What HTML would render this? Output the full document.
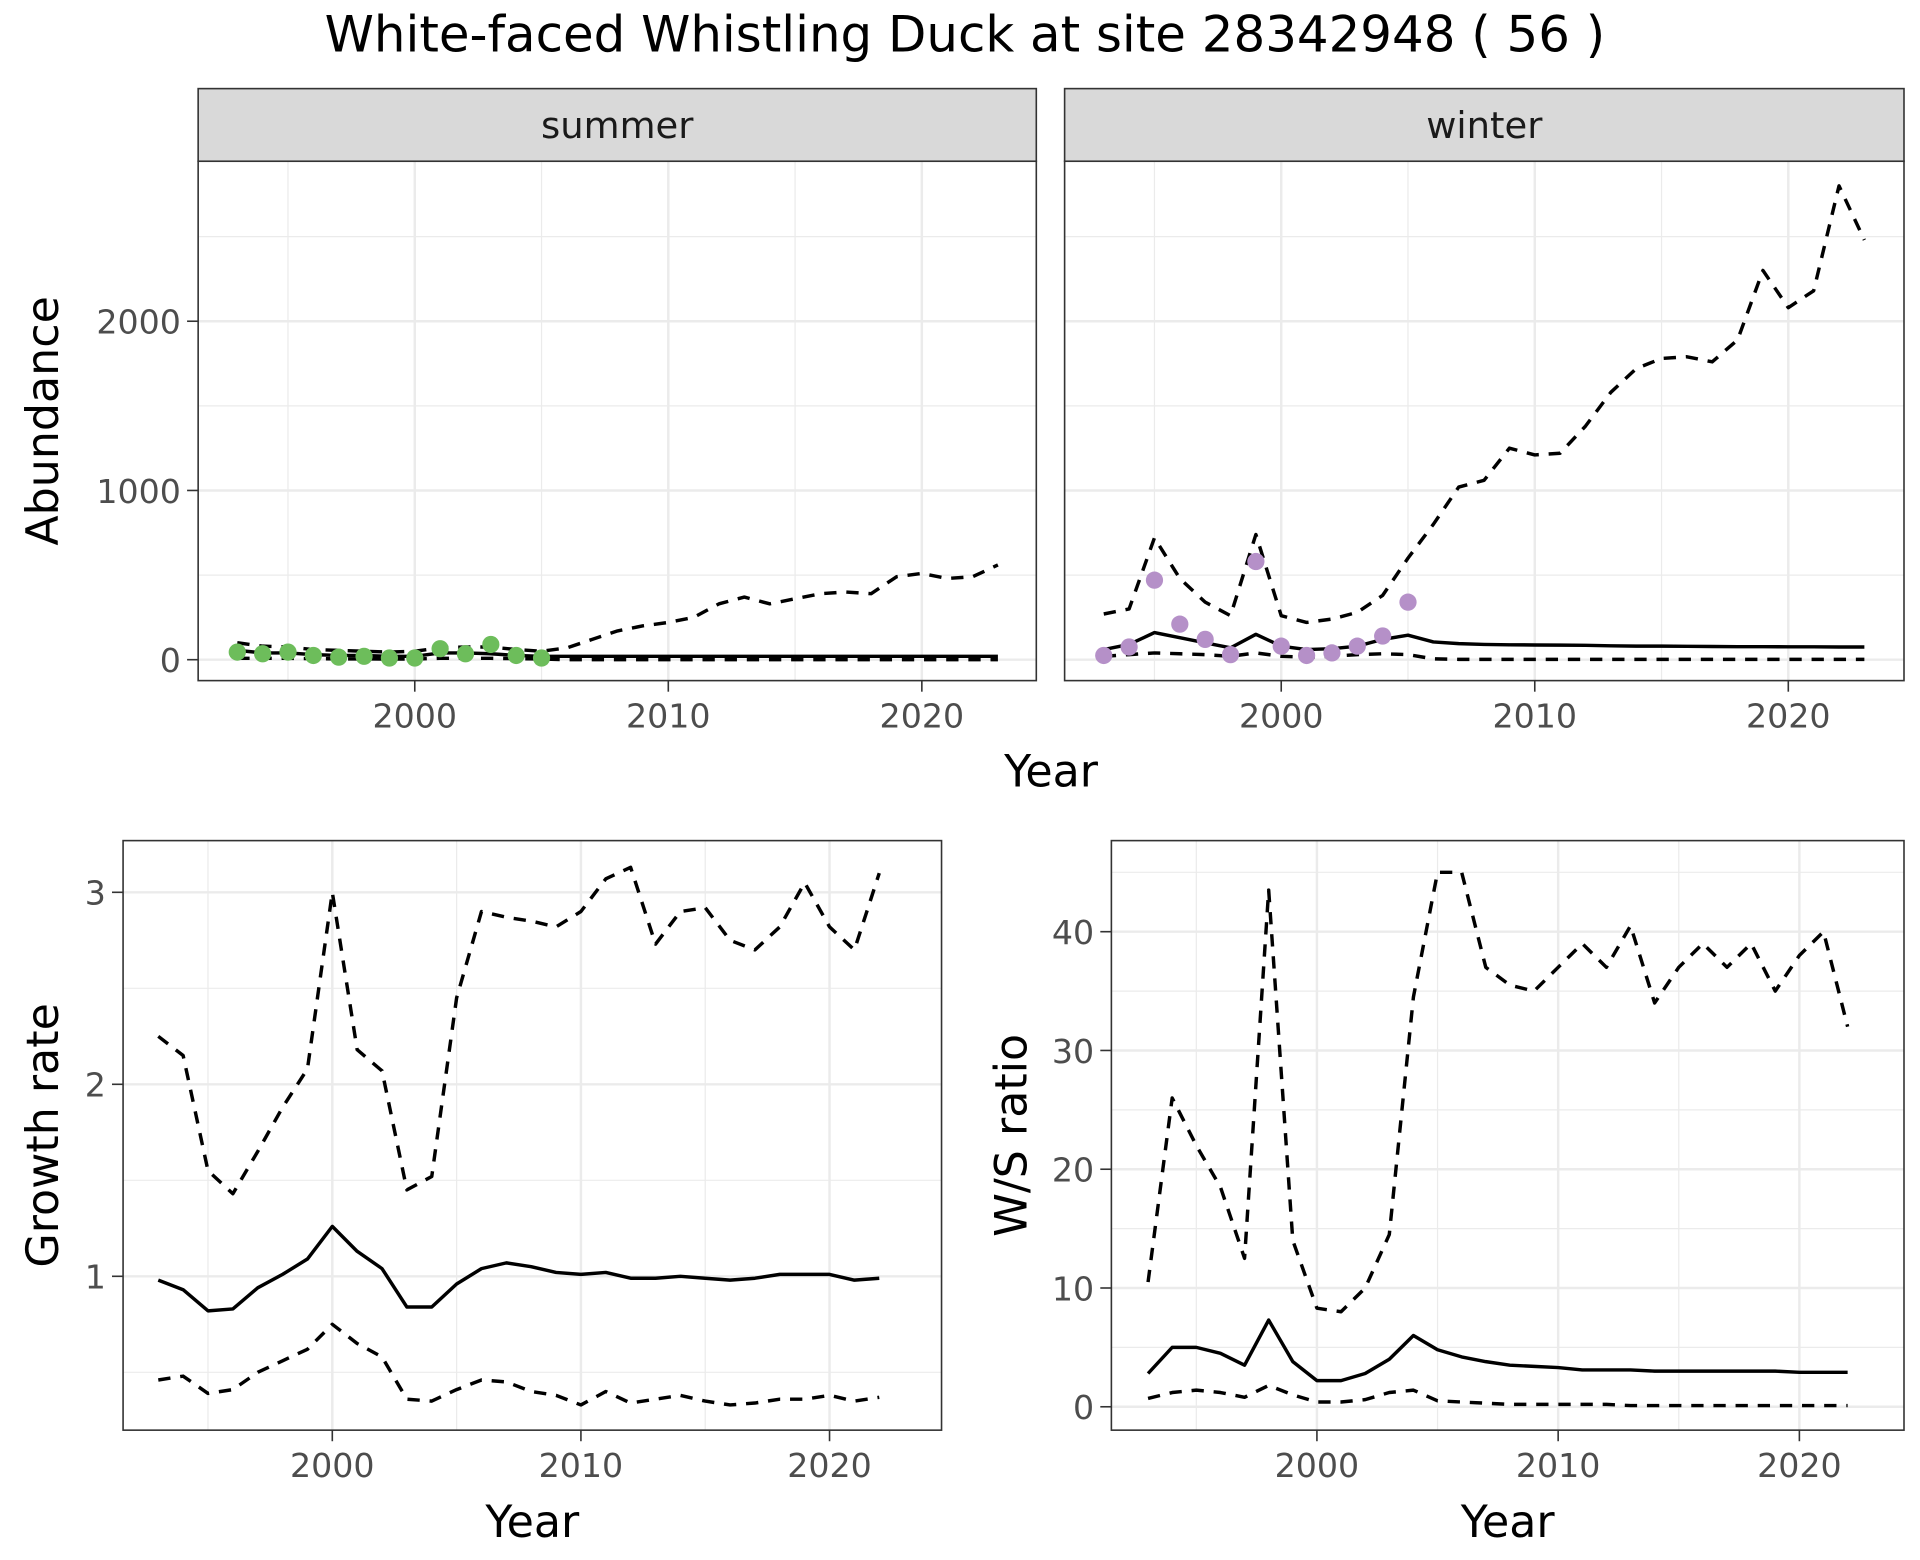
<!DOCTYPE html>
<html><head><meta charset="utf-8"><style>
html,body{margin:0;padding:0;background:#fff;}
svg{display:block;}
text{font-family:"DejaVu Sans","Liberation Sans",sans-serif;}
</style></head><body>
<svg id="chart" width="1920" height="1560" viewBox="0 0 1560 1267.5" preserveAspectRatio="none" xmlns="http://www.w3.org/2000/svg">
<rect width="1560" height="1267.5" fill="#fff"/>
<text x="784" y="42" font-size="40.5" text-anchor="middle" fill="#000">White-faced Whistling Duck at site 28342948 ( 56 )</text>
</svg>
<script>
const yearsTop = [1993,1994,1995,1996,1997,1998,1999,2000,2001,2002,2003,2004,2005,2006,2007,2008,2009,2010,2011,2012,2013,2014,2015,2016,2017,2018,2019,2020,2021,2022,2023];
const obsYears = [1993,1994,1995,1996,1997,1998,1999,2000,2001,2002,2003,2004,2005];
const summerObs = [45,35,45,25,15,20,10,10,65,35,90,25,10];
const summerMean = [55,40,40,30,25,25,20,20,40,40,35,25,20,20,20,20,20,20,20,20,20,20,20,20,20,20,20,20,20,20,20];
const summerUpper = [100,80,75,60,55,50,45,50,70,75,75,60,50,70,120,170,200,220,250,330,370,330,360,390,400,390,490,510,480,490,560];
const summerLower = [8,8,8,6,5,5,4,4,8,8,8,6,4,0,0,0,0,0,0,0,0,0,0,0,0,0,0,0,0,0,0];
const winterObs = [25,75,470,210,120,30,580,80,25,40,80,140,340];
const winterMean = [60,90,160,130,100,70,150,80,60,65,80,120,145,105,95,90,88,87,86,85,82,80,80,79,78,77,77,76,76,75,75];
const winterUpper = [270,300,720,480,340,260,740,260,220,240,280,380,600,800,1020,1060,1250,1210,1220,1380,1580,1720,1780,1790,1760,1890,2300,2080,2180,2800,2480];
const winterLower = [20,30,40,35,30,20,40,20,15,20,30,35,30,5,2,2,2,2,2,2,2,2,2,2,2,2,2,2,2,2,2];
const yearsBot = [1993,1994,1995,1996,1997,1998,1999,2000,2001,2002,2003,2004,2005,2006,2007,2008,2009,2010,2011,2012,2013,2014,2015,2016,2017,2018,2019,2020,2021,2022];
const growthMean = [0.98,0.93,0.82,0.83,0.94,1.01,1.09,1.26,1.13,1.04,0.84,0.84,0.96,1.04,1.07,1.05,1.02,1.01,1.02,0.99,0.99,1.0,0.99,0.98,0.99,1.01,1.01,1.01,0.98,0.99];
const growthUpper = [2.25,2.15,1.55,1.43,1.65,1.88,2.08,3.0,2.18,2.07,1.45,1.52,2.45,2.9,2.87,2.85,2.82,2.9,3.07,3.13,2.73,2.9,2.92,2.75,2.7,2.82,3.05,2.82,2.7,3.1];
const growthLower = [0.46,0.48,0.39,0.41,0.5,0.56,0.62,0.75,0.65,0.58,0.36,0.35,0.41,0.46,0.45,0.4,0.38,0.33,0.4,0.34,0.36,0.38,0.35,0.33,0.34,0.36,0.36,0.38,0.35,0.37];
const ratioMean = [2.8,5,5,4.5,3.5,7.3,3.8,2.2,2.2,2.8,4,6,4.8,4.2,3.8,3.5,3.4,3.3,3.1,3.1,3.1,3,3,3,3,3,3,2.9,2.9,2.9];
const ratioUpper = [10.5,26,22,18.5,12.5,43.5,14,8.3,8,10,14.5,34.5,45,45,37,35.5,35,37,39,37,40.5,34,37,39,37,39,35,38,40,32];
const ratioLower = [0.7,1.2,1.4,1.2,0.8,1.8,1,0.4,0.4,0.6,1.2,1.4,0.5,0.4,0.3,0.2,0.2,0.2,0.2,0.2,0.1,0.1,0.1,0.1,0.1,0.1,0.1,0.1,0.1,0.1];
const xTicks = [2000,2010,2020];
const xMinor = [1995,2005,2015];
const topYTicks = [0,1000,2000];
const topYMinor = [500,1500,2500];
const growthTicks = [1,2,3];
const growthMinor = [0.5,1.5,2.5];
const ratioTicks = [0,10,20,30,40];
const ratioMinor = [5,15,25,35,45];

const NS = "http://www.w3.org/2000/svg";
const svg = document.getElementById('chart');
function mk(tag, attrs, parent){
  const e = document.createElementNS(NS, tag);
  for (const k in attrs) e.setAttribute(k, attrs[k]);
  (parent||svg).appendChild(e);
  return e;
}
function panel(o){
  const g = mk('g', {});
  
  
  const sx = v => o.x0px + (v - o.x0v) * o.xk;
  const sy = v => o.y0px - (v - o.y0v) * o.yk;
  mk('rect', {x:o.l, y:o.t, width:o.r-o.l, height:o.b-o.t, fill:'#fff'}, g);
  o.xMinor.forEach(v => mk('line', {x1:sx(v), x2:sx(v), y1:o.t, y2:o.b, stroke:'#ebebeb', 'stroke-width':1}, g));
  o.yMinor.forEach(v => { const y = sy(v); if (y > o.t && y < o.b) mk('line', {x1:o.l, x2:o.r, y1:y, y2:y, stroke:'#ebebeb', 'stroke-width':1}, g); });
  o.xTicks.forEach(v => mk('line', {x1:sx(v), x2:sx(v), y1:o.t, y2:o.b, stroke:'#ebebeb', 'stroke-width':2}, g));
  o.yTicks.forEach(v => mk('line', {x1:o.l, x2:o.r, y1:sy(v), y2:sy(v), stroke:'#ebebeb', 'stroke-width':2}, g));
  const line = (ys, dash, nm) => {
    const p = mk('polyline', {points:o.years.map((yr,i)=>sx(yr)+','+sy(ys[i])).join(' '), fill:'none', stroke:'#000', 'stroke-width':2.8, 'stroke-dasharray':dash||'none', 'stroke-linejoin':'round'}, g);
    
    
  };
  line(o.upper, '10,8', 'upper-bound-line');
  line(o.lower, '10,8', 'lower-bound-line');
  line(o.mean, null, 'mean-line');
  if (o.obs) o.obs.forEach((v,i) => {
    const c = mk('circle', {cx:sx(obsYears[i]), cy:sy(v), r:7, fill:o.color}, g);
    
    
  });
  mk('rect', {x:o.l, y:o.t, width:o.r-o.l, height:o.b-o.t, fill:'none', stroke:'#333', 'stroke-width':1.3}, g);
  if (o.strip) {
    const s = mk('rect', {x:o.l, y:o.t-59, width:o.r-o.l, height:59, fill:'#d9d9d9', stroke:'#333', 'stroke-width':1.3}, g);
    
    
    const st = mk('text', {x:(o.l+o.r)/2, y:o.t-19, 'font-size':30, 'text-anchor':'middle', fill:'#1a1a1a'}, g);
    st.textContent = o.strip;
    
    
  }
  o.xTicks.forEach(v => {
    mk('line', {x1:sx(v), x2:sx(v), y1:o.b, y2:o.b+9, stroke:'#333', 'stroke-width':1.3}, g);
    const t = mk('text', {x:sx(v), y:o.b+38, 'font-size':27, 'text-anchor':'middle', fill:'#4d4d4d'}, g);
    t.textContent = v;
    
    
  });
  if (o.showY) o.yTicks.forEach(v => {
    mk('line', {x1:o.l-9, x2:o.l, y1:sy(v), y2:sy(v), stroke:'#333', 'stroke-width':1.3}, g);
    const t = mk('text', {x:o.l-14, y:sy(v)+10, 'font-size':27, 'text-anchor':'end', fill:'#4d4d4d'}, g);
    t.textContent = v;
    
    
  });
  if (o.xTitle) {
    const t = mk('text', {x:(o.l+o.r)/2, y:o.b+87, 'font-size':36, 'text-anchor':'middle', fill:'#000'}, g);
    t.textContent = 'Year';
    
    
  }
  if (o.yTitle) {
    const cx = o.yTitleX, cy = (o.t+o.b)/2;
    const t = mk('text', {x:cx, y:cy, 'font-size':36, 'text-anchor':'middle', fill:'#000', transform:'rotate(-90 '+cx+' '+cy+')'}, g);
    t.textContent = o.yTitle;
    
    
  }
}
panel({name:'summer-panel', l:161, r:842, t:131, b:553, x0v:2000, x0px:337, xk:20.6, y0v:0, y0px:536, yk:0.1375,
  years:yearsTop, mean:summerMean, upper:summerUpper, lower:summerLower, obs:summerObs, color:'#6dbd5b',
  xTicks, xMinor, yTicks:topYTicks, yMinor:topYMinor, showY:true, strip:'summer', yTitle:'Abundance', yTitleX:47});
panel({name:'winter-panel', l:865, r:1547, t:131, b:553, x0v:2000, x0px:1041, xk:20.6, y0v:0, y0px:536, yk:0.1375,
  years:yearsTop, mean:winterMean, upper:winterUpper, lower:winterLower, obs:winterObs, color:'#b590c8',
  xTicks, xMinor, yTicks:topYTicks, yMinor:topYMinor, showY:false, strip:'winter'});
const yt = mk('text', {x:854, y:639, 'font-size':36, 'text-anchor':'middle', fill:'#000'});
yt.textContent = 'Year';


panel({name:'growth-panel', l:100, r:765, t:683, b:1162, x0v:2000, x0px:270, xk:20.2, y0v:1, y0px:1037, yk:156,
  years:yearsBot, mean:growthMean, upper:growthUpper, lower:growthLower,
  xTicks, xMinor, yTicks:growthTicks, yMinor:growthMinor, showY:true, xTitle:true, yTitle:'Growth rate', yTitleX:47});
panel({name:'ratio-panel', l:903, r:1547, t:683, b:1162, x0v:2000, x0px:1070, xk:19.6, y0v:0, y0px:1143, yk:9.65,
  years:yearsBot, mean:ratioMean, upper:ratioUpper, lower:ratioLower,
  xTicks, xMinor, yTicks:ratioTicks, yMinor:ratioMinor, showY:true, xTitle:true, yTitle:'W/S ratio', yTitleX:834});
</script>
</body></html>
